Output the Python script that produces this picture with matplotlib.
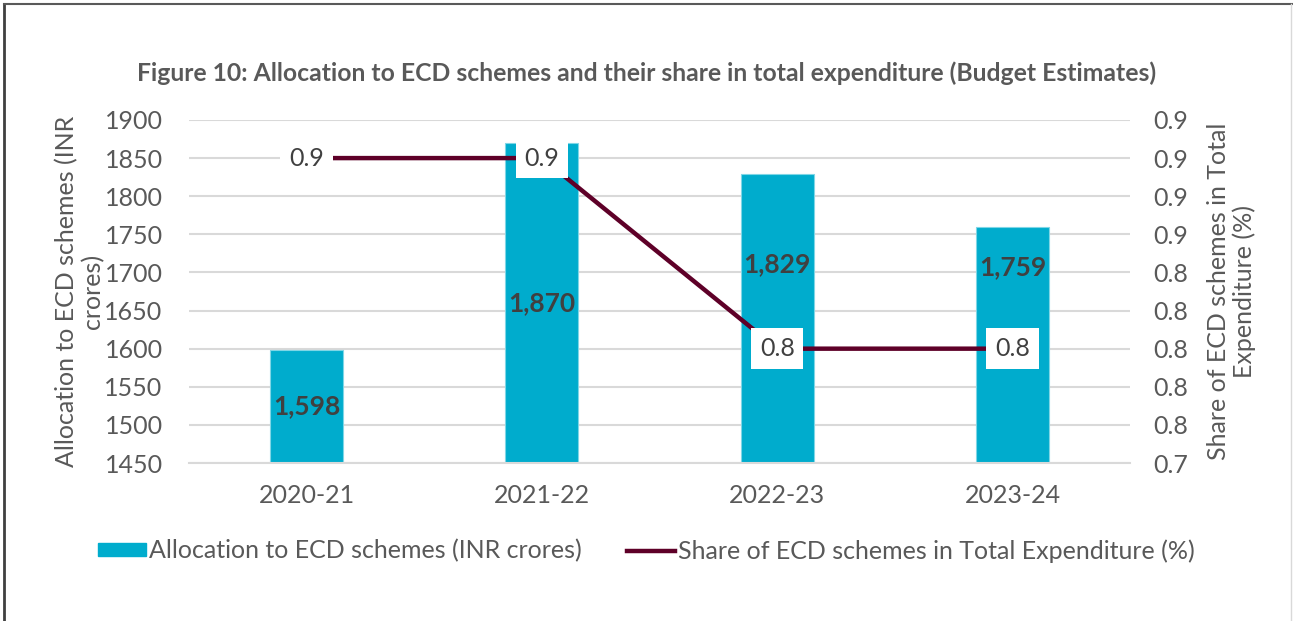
import matplotlib.pyplot as plt
from matplotlib.patches import Rectangle
from matplotlib.lines import Line2D
import numpy as np

plt.rcParams['font.family'] = ['Lato', 'DejaVu Sans']

# datos
years = ['2020-21', '2021-22', '2022-23', '2023-24']
allocation = [1598, 1870, 1829, 1759]
share = [0.9, 0.9, 0.8, 0.8]

bar_color = '#00ACCD'
line_color = '#5E0028'
txt = '#595959'

# desplazamiento vertical de las etiquetas de barra (fraccion de la altura de la barra)
lab_frac = [0.5, 0.5, 0.69, 0.83]

fig = plt.figure(figsize=(12.93, 6.21), dpi=100)
ax = fig.add_axes([0.1462, 0.2544, 0.7278, 0.5524])
ax2 = ax.twinx()

x = np.arange(len(years))
ax.bar(x, allocation, width=0.31, color=bar_color, edgecolor='#7FD6E6', linewidth=0.8, zorder=2)
ax.set_xlim(-0.5, 3.5)
ax.set_ylim(1450, 1900)
ax.set_yticks(range(1450, 1901, 50))
ax.set_xticks(x)
ax.set_xticklabels(years)
ax.tick_params(length=0, labelsize=18, labelcolor=txt, pad=15)
ax.tick_params(axis='y', pad=19)
ax.grid(axis='y', color='#D9D9D9', lw=1.5, zorder=0)
ax.set_axisbelow(True)
for s in ['top', 'left', 'right']:
    ax.spines[s].set_visible(False)
    ax2.spines[s].set_visible(False)
ax.spines['bottom'].set_color('#D9D9D9')
ax.spines['bottom'].set_linewidth(1.5)
ax2.spines['bottom'].set_visible(False)

for xi, v, f in zip(x, allocation, lab_frac):
    ax.text(xi, 1450 + (v - 1450) * f, f'{v:,}', ha='center', va='center', fontsize=19,
            fontweight='bold', color='#404040', zorder=5)

ax2.plot(x, share, color=line_color, lw=3.2, zorder=3)
rticks = np.round(np.arange(0.74, 0.921, 0.02), 2)
ax2.set_ylim(0.74, 0.92)
ax2.set_yticks(rticks)
ax2.set_yticklabels([f'{t:.1f}' for t in rticks])
ax2.tick_params(length=0, labelsize=18, labelcolor=txt, pad=17)
for xi, v in zip(x, share):
    ax2.text(xi, v, f'{v:.1f}', ha='center', va='center', fontsize=18, color='#404040', zorder=6,
             bbox=dict(boxstyle='square,pad=0.35', fc='white', ec='none'))

ax.set_ylabel('Allocation to ECD schemes (INR\ncrores)', fontsize=18, color=txt, labelpad=0,
              linespacing=1.15)
ax2.set_ylabel('Share of ECD schemes in Total\nExpenditure (%)', fontsize=18, color=txt,
               rotation=90, labelpad=13, linespacing=1.15)

fig.text(0.5, 0.882, 'Figure 10: Allocation to ECD schemes and their share in total expenditure (Budget Estimates)',
         ha='center', va='center', fontsize=17.8, fontweight='bold', color=txt)

handles = [Rectangle((0, 0), 1, 1, color=bar_color),
           Line2D([0], [0], color=line_color, lw=3.2)]
labels = ['Allocation to ECD schemes (INR crores)', 'Share of ECD schemes in Total Expenditure (%)']
leg = fig.legend(handles, labels, loc='center', bbox_to_anchor=(0.5, 0.113), ncol=2, frameon=False,
                 fontsize=18, handlelength=1.9, handleheight=0.45, handletextpad=0.15, columnspacing=1.8)
for t in leg.get_texts():
    t.set_color(txt)

# marco
fig.add_artist(Line2D([0.003, 0.003], [0, 0.994], color='#404040', lw=2, transform=fig.transFigure))
fig.add_artist(Line2D([0.003, 1], [0.994, 0.994], color='#595959', lw=1.5, transform=fig.transFigure))
fig.add_artist(Line2D([0.9985, 0.9985], [0, 0.994], color='#D9D9D9', lw=1, transform=fig.transFigure))

fig.savefig('out.png', dpi=100)
